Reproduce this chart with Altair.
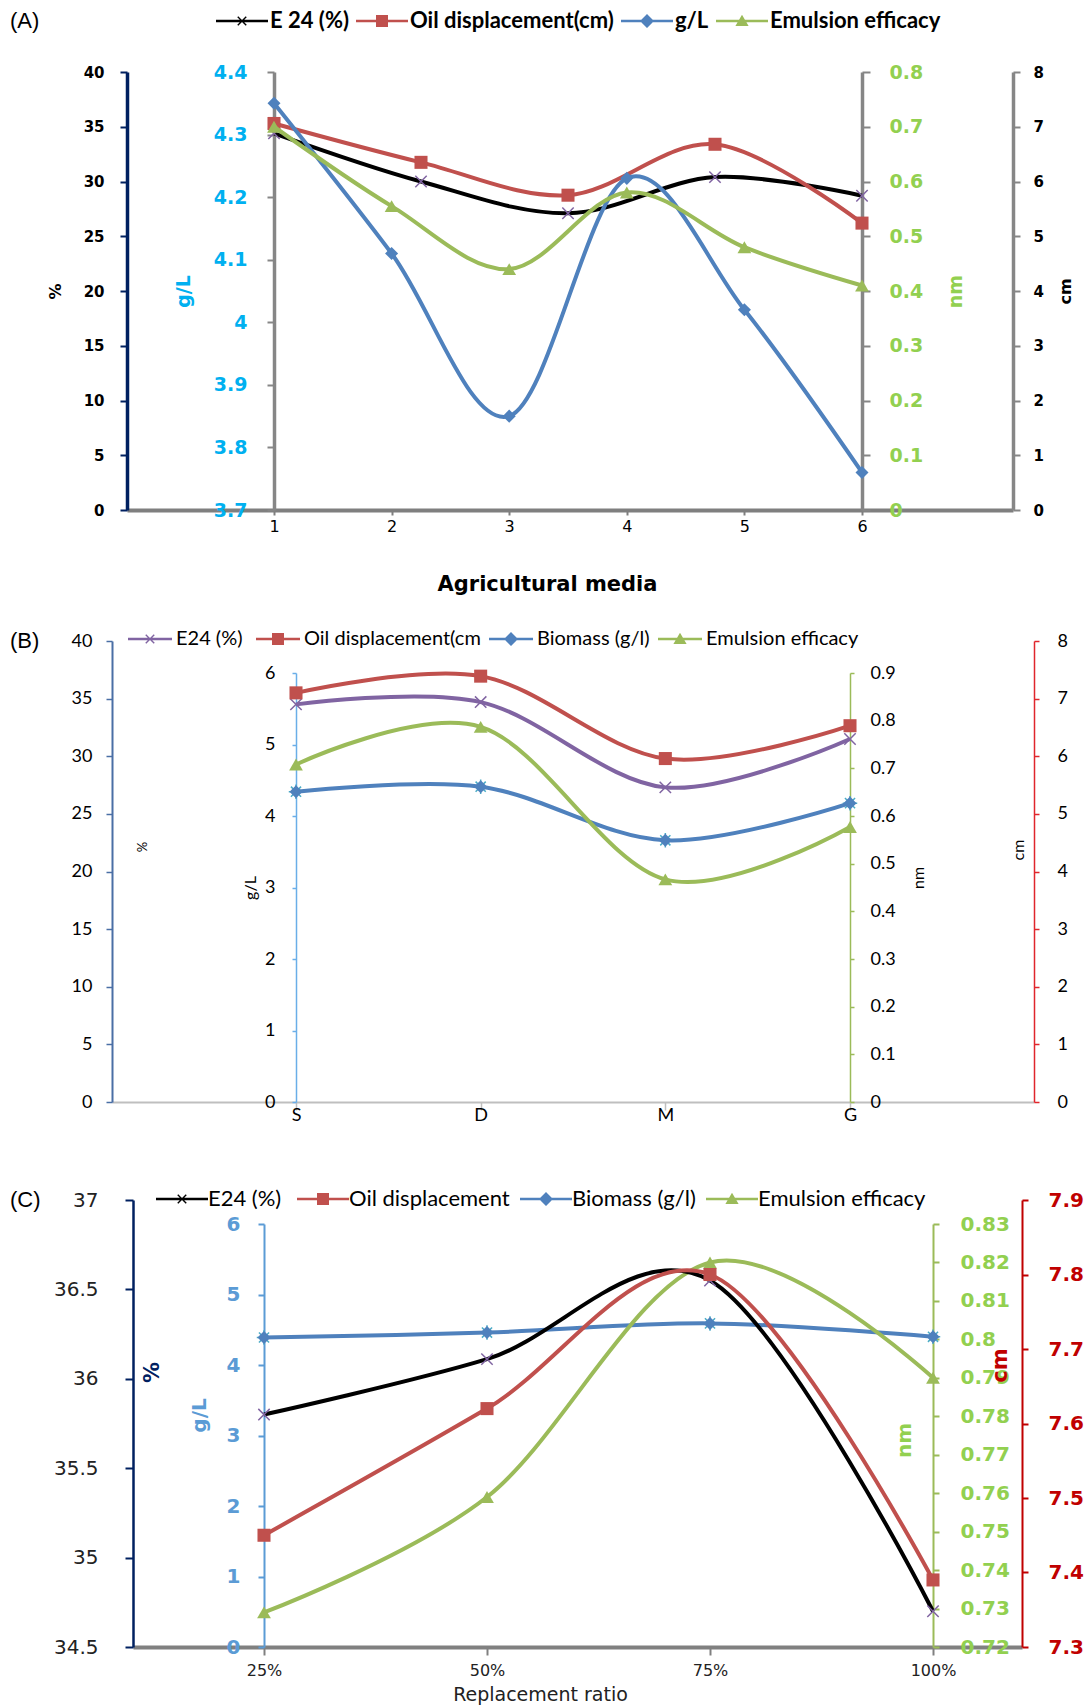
import json
import math
import altair as alt
import pandas as pd

W = 1086
HA, HB, HC = 598, 540, 567

# ---------------- Panel A data ----------------
A_MEDIA = [1, 2, 3, 4, 5, 6]
A_MEDIA_5 = [1, 2.25, 3.5, 4.75, 6]
A_E24 = [34.4, 30.0, 27.1, 30.4, 28.7]
A_OIL = [7.06, 6.35, 5.75, 6.68, 5.24]
A_GL = [4.35, 4.11, 3.85, 4.23, 4.02, 3.76]
A_EMUL = [0.70, 0.555, 0.44, 0.58, 0.48, 0.41]
A_NAMES = ["E 24 (%)", "Oil displacement(cm)", "g/L", "Emulsion efficacy"]
A_TICKS_PCT = [0, 5, 10, 15, 20, 25, 30, 35, 40]
A_TICKS_GL = [3.7, 3.8, 3.9, 4.0, 4.1, 4.2, 4.3, 4.4]
A_TICKS_NM = [0, 0.1, 0.2, 0.3, 0.4, 0.5, 0.6, 0.7, 0.8]
A_TICKS_CM = [0, 1, 2, 3, 4, 5, 6, 7, 8]

# ---------------- Panel B data ----------------
B_CATS = ["S", "D", "M", "G"]
B_E24 = [34.5, 34.7, 27.3, 31.5]
B_OIL = [7.10, 7.39, 5.96, 6.53]
B_BIO = [4.34, 4.41, 3.66, 4.18]
B_EMUL = [0.708, 0.787, 0.467, 0.577]
B_NAMES = ["E24  (%)", "Oil displacement(cm", "Biomass (g/l)", "Emulsion efficacy"]
B_TICKS_PCT = [0, 5, 10, 15, 20, 25, 30, 35, 40]
B_TICKS_GL = [0, 1, 2, 3, 4, 5, 6]
B_TICKS_NM = [0, 0.1, 0.2, 0.3, 0.4, 0.5, 0.6, 0.7, 0.8, 0.9]
B_TICKS_CM = [0, 1, 2, 3, 4, 5, 6, 7, 8]

# ---------------- Panel C data ----------------
C_CATS = ["25%", "50%", "75%", "100%"]
C_E24 = [35.80, 36.11, 36.55, 34.70]
C_OIL = [7.45, 7.62, 7.80, 7.39]
C_BIO = [4.39, 4.46, 4.59, 4.40]
C_EMUL = [0.729, 0.759, 0.820, 0.790]
C_NAMES = ["E24  (%)", "Oil displacement", "Biomass (g/l)", "Emulsion efficacy"]
C_TICKS_PCT = [34.5, 35, 35.5, 36, 36.5, 37]
C_TICKS_GL = [0, 1, 2, 3, 4, 5, 6]
C_TICKS_NM = [0.72, 0.73, 0.74, 0.75, 0.76, 0.77, 0.78, 0.79, 0.80, 0.81, 0.82, 0.83]
C_TICKS_CM = [7.3, 7.4, 7.5, 7.6, 7.7, 7.8, 7.9]

# ---------------- styles ----------------
BLACK = "#000000"
PURPLE = "#8064A2"
RED = "#C0504D"
BLUE = "#4F81BD"
GREEN = "#9BBB59"
CYAN = "#4BACC6"
VERD = "DejaVu Sans"
CAL = "Lato"
ARIAL = "Liberation Sans"
XPATH = "M-1,-1L1,1M-1,1L1,-1"
STAR = "M-1,0L1,0M0,-1L0,1M-0.7,-0.7L0.7,0.7M-0.7,0.7L0.7,-0.7"


def legend_path(marker, L):
    t = 0.12
    line = f"M{-L},{-t}H{L}V{t}H{-L}Z"
    if marker == "square":
        mk = "M-0.6,-0.6H0.6V0.6H-0.6Z"
    elif marker == "diamond":
        mk = "M0,-0.7L0.7,0L0,0.7L-0.7,0Z"
    elif marker == "triangle":
        mk = "M0,-0.62L0.66,0.5H-0.66Z"
    else:
        a, tt = 0.6, 0.07
        pts = [(tt, -a), (tt, -tt), (a, -tt), (a, tt), (tt, tt), (tt, a),
               (-tt, a), (-tt, tt), (-a, tt), (-a, -tt), (-tt, -tt), (-tt, -a)]
        r = 1 / math.sqrt(2)
        rp = [((x - y) * r, (x + y) * r) for x, y in pts]
        mk = "M" + "L".join(f"{x:.3f},{y:.3f}" for x, y in rp) + "Z"
    return line + mk


def pt(marker, color):
    if marker == "square":
        return alt.OverlayMarkDef(shape="square", size=170, filled=True, color=color, opacity=1)
    if marker == "triangle":
        return alt.OverlayMarkDef(shape="triangle-up", size=190, filled=True, color=color, opacity=1)
    if marker == "diamond":
        return alt.OverlayMarkDef(shape="diamond", size=170, filled=True, color=color, opacity=1)
    return alt.OverlayMarkDef(shape=XPATH, size=130, filled=False, color=color, strokeWidth=1.5, opacity=1)


def yaxis(orient, pos, ticks, title, dom, lab_col, lab_font, lab_size, lab_w, tsize, pad,
          t_x, t_y, t_col, t_font, t_size, t_w, dom_w=2, tick_w=2):
    off = -pos if orient == "left" else -(W - pos)
    return alt.Axis(orient=orient, offset=off, values=ticks, format="~g", title=title, grid=False,
                    domainColor=dom, domainWidth=dom_w, tickColor=dom, tickWidth=tick_w, tickSize=tsize,
                    labelColor=lab_col, labelFont=lab_font, labelFontSize=lab_size, labelFontWeight=lab_w,
                    labelPadding=pad, labelFlush=False, labelOverlap=False, labelBound=False,
                    titleX=t_x, titleY=t_y, titleAngle=270, titleAlign="center", titleBaseline="middle",
                    titleColor=t_col, titleFont=t_font, titleFontSize=t_size, titleFontWeight=t_w)


def series(xs, vs, ydom, yrng, axis, xenc, color, marker, sw=4):
    df = pd.DataFrame({"x": xs, "v": vs})
    return alt.Chart(df).mark_line(interpolate="cardinal", color=color, strokeWidth=sw,
                                   point=pt(marker, color if marker != "x" else PURPLE)).encode(
        x=xenc,
        y=alt.Y("v:Q", scale=alt.Scale(domain=ydom, range=yrng, nice=False, zero=False), axis=axis),
    )


def stars(xs, vs, ydom, yrng, xenc):
    df = pd.DataFrame({"x": xs, "v": vs})
    return alt.Chart(df).mark_point(shape=STAR, size=210, filled=False, color=CYAN, strokeWidth=1.5,
                                    opacity=1).encode(
        x=xenc,
        y=alt.Y("v:Q", scale=alt.Scale(domain=ydom, range=yrng, nice=False, zero=False), axis=None),
    )


def legend_layer(names, colors, markers, lx, ly, font, size, weight, colpad, L, lab_adj=0):
    df = pd.DataFrame({"s": names})
    paths = [legend_path(m, L) for m in markers]
    half = 10 * L
    leg = alt.Legend(title=None, orient="none", legendX=lx, legendY=ly, direction="horizontal",
                     columns=len(names), symbolSize=400, symbolOpacity=1, symbolStrokeWidth=0,
                     labelFont=font, labelFontSize=size, labelFontWeight=weight, labelColor="black",
                     labelLimit=0, columnPadding=colpad, symbolOffset=half - 10,
                     labelOffset=half - 6 + lab_adj)
    return alt.Chart(df).mark_point(filled=True, opacity=0).encode(
        color=alt.Color("s:N", scale=alt.Scale(domain=names, range=colors), legend=leg),
        shape=alt.Shape("s:N", scale=alt.Scale(domain=names, range=paths), legend=leg),
    )


def panel_title(text, dy):
    return alt.TitleParams(text=text, anchor="start", frame="group", orient="top", offset=0, dx=10, dy=dy,
                           fontSize=22, font=ARIAL, fontWeight="normal", color="black", baseline="middle")


# ================= Panel A =================
A_TOP, A_BOT = 72, 510
A_X = [127, 274, 862, 1013]  # % axis, g/L axis, nm axis, cm axis
a_step = (A_X[2] - A_X[1]) / (A_MEDIA[-1] - A_MEDIA[0])
a_xdom = [A_MEDIA[0] - (A_X[1] - A_X[0]) / a_step, A_MEDIA[-1] + (A_X[3] - A_X[2]) / a_step]
a_xaxis = alt.Axis(orient="bottom", offset=-(HA - A_BOT), values=A_MEDIA, format="d", grid=False,
                   domainColor="#7F7F7F", domainWidth=4, tickColor="#7F7F7F", tickWidth=2, tickSize=5,
                   labelFont=VERD, labelFontSize=16, labelColor="black", labelPadding=3, labelFlush=False,
                   title="Agricultural media", titleFont=VERD, titleFontSize=21, titleFontWeight="bold",
                   titleColor="black", titleX=547, titleY=74, titleBaseline="middle", titleAlign="center")
a_x = alt.X("x:Q", scale=alt.Scale(domain=a_xdom, range=[A_X[0], A_X[3]], nice=False, zero=False), axis=a_xaxis)
a_yr = [A_BOT, A_TOP]
a_mid = (A_TOP + A_BOT) / 2
GRAY = "#868686"

ax_pct = yaxis("left", A_X[0], A_TICKS_PCT, "%", "#002060", BLACK, VERD, 15, "bold", 7, 16,
               -72, a_mid, BLACK, VERD, 16, "bold", dom_w=3.5)
ax_gl = yaxis("left", A_X[1], A_TICKS_GL, "g/L", GRAY, "#00B0F0", VERD, 19, "bold", 7, 20,
              -91, a_mid, "#00B0F0", VERD, 19, "bold", dom_w=3.5)
ax_nm = yaxis("right", A_X[2], A_TICKS_NM, "nm", GRAY, "#92D050", VERD, 19, "bold", 8, 19,
              93, a_mid, "#92D050", VERD, 19, "bold", dom_w=3.5)
ax_cm = yaxis("right", A_X[3], A_TICKS_CM, "cm", GRAY, BLACK, VERD, 15, "bold", 7, 13,
              52, a_mid, BLACK, VERD, 16, "bold", dom_w=3.5)

panelA = alt.layer(
    series(A_MEDIA_5, A_E24, [0, 40], a_yr, ax_pct, a_x, BLACK, "x"),
    series(A_MEDIA_5, A_OIL, [0, 8], a_yr, ax_cm, a_x, RED, "square"),
    series(A_MEDIA, A_GL, [3.7, 4.4], a_yr, ax_gl, a_x, BLUE, "diamond"),
    series(A_MEDIA, A_EMUL, [0, 0.8], a_yr, ax_nm, a_x, GREEN, "triangle"),
    legend_layer(A_NAMES, [BLACK, RED, BLUE, GREEN], ["x", "square", "diamond", "triangle"],
                 215, 10, CAL, 22, "bold", 6, 2.6, -3),
).resolve_scale(y="independent").properties(width=W, height=HA, title=panel_title("(A)", 43))

# ================= Panel B =================
B_TOP, B_TOP2, B_BOT = 43, 75, 504
B_X = [112, 296, 850, 1034]
b_idx = list(range(len(B_CATS)))
b_step = (B_X[2] - B_X[1]) / (len(B_CATS) - 1)
b_xdom = [-(B_X[1] - B_X[0]) / b_step, (len(B_CATS) - 1) + (B_X[3] - B_X[2]) / b_step]
b_xaxis = alt.Axis(orient="bottom", offset=-(HB - B_BOT), values=b_idx,
                   labelExpr=f"{json.dumps(B_CATS)}[datum.value]", grid=False,
                   domainColor="#BFBFBF", domainWidth=2, tickColor="#BFBFBF", tickWidth=1.5, tickSize=8,
                   labelFont=CAL, labelFontSize=18, labelColor="black", labelPadding=-4, labelFlush=False,
                   title=None)
b_x = alt.X("x:Q", scale=alt.Scale(domain=b_xdom, range=[B_X[0], B_X[3]], nice=False, zero=False), axis=b_xaxis)
b_yr1 = [B_BOT, B_TOP]
b_yr2 = [B_BOT, B_TOP2]
b_mid1 = (B_TOP + B_BOT) / 2
b_mid2 = (B_TOP2 + B_BOT) / 2

bx_pct = yaxis("left", B_X[0], B_TICKS_PCT, "%", "#4A6FA5", BLACK, CAL, 18, "normal", 6, 14,
               30, b_mid1 - 25, BLACK, CAL, 13, "normal", dom_w=2, tick_w=1.5)
bx_gl = yaxis("left", B_X[1], B_TICKS_GL, "g/L", "#6AAEE8", BLACK, CAL, 18, "normal", 4, 17,
              -46, b_mid2, BLACK, CAL, 16, "normal", dom_w=1.5, tick_w=1.5)
bx_nm = yaxis("right", B_X[2], B_TICKS_NM, "nm", GREEN, BLACK, CAL, 18, "normal", 4, 16,
              68, b_mid2 - 10, BLACK, CAL, 16, "normal", dom_w=1.5, tick_w=1.5)
bx_cm = yaxis("right", B_X[3], B_TICKS_CM, "cm", "#E0262C", BLACK, CAL, 18, "normal", 5, 18,
              -16, b_mid1 - 22, BLACK, CAL, 16, "normal", dom_w=1.5, tick_w=1.5)

panelB = alt.layer(
    series(b_idx, B_E24, [0, 40], b_yr1, bx_pct, b_x, PURPLE, "x"),
    series(b_idx, B_OIL, [0, 8], b_yr1, bx_cm, b_x, RED, "square"),
    stars(b_idx, B_BIO, [0, 6], b_yr2, b_x),
    series(b_idx, B_BIO, [0, 6], b_yr2, bx_gl, b_x, BLUE, "diamond"),
    series(b_idx, B_EMUL, [0, 0.9], b_yr2, bx_nm, b_x, GREEN, "triangle"),
    legend_layer(B_NAMES, [PURPLE, RED, BLUE, GREEN], ["x", "square", "diamond", "triangle"],
                 128, 31, CAL, 20, "normal", 8, 2.2),
).resolve_scale(y="independent").properties(width=W, height=HB, title=panel_title("(B)", 65))

# ================= Panel C =================
C_TOP, C_TOP2, C_BOT = 62, 86, 509
C_X = [133, 264, 933, 1022]
c_idx = list(range(len(C_CATS)))
c_step = (C_X[2] - C_X[1]) / (len(C_CATS) - 1)
c_xdom = [-(C_X[1] - C_X[0]) / c_step, (len(C_CATS) - 1) + (C_X[3] - C_X[2]) / c_step]
c_xaxis = alt.Axis(orient="bottom", offset=-(HC - C_BOT), values=c_idx,
                   labelExpr=f"{json.dumps(C_CATS)}[datum.value]", grid=False,
                   domainColor="#808080", domainWidth=4, tickColor="#808080", tickWidth=2, tickSize=8,
                   labelFont=VERD, labelFontSize=16, labelColor="#222222", labelPadding=7, labelFlush=False,
                   title="Replacement ratio", titleFont=VERD, titleFontSize=19, titleFontWeight="normal",
                   titleColor="#222222", titleX=540, titleY=47, titleBaseline="middle", titleAlign="center")
c_x = alt.X("x:Q", scale=alt.Scale(domain=c_xdom, range=[C_X[0], C_X[3]], nice=False, zero=False), axis=c_xaxis)
c_yr1 = [C_BOT, C_TOP]
c_yr2 = [C_BOT, C_TOP2]

cx_pct = yaxis("left", C_X[0], C_TICKS_PCT, "%", "#002060", "#222222", VERD, 20, "normal", 8, 27,
               19, 234, "#002060", VERD, 21, "bold", dom_w=2.5, tick_w=2)
cx_gl = yaxis("left", C_X[1], C_TICKS_GL, "g/L", "#5B9BD5", "#5B9BD5", VERD, 20, "bold", 6, 18,
              -65, 277, "#5B9BD5", VERD, 20, "bold", dom_w=2, tick_w=2)
cx_nm = yaxis("right", C_X[2], C_TICKS_NM, "nm", GREEN, "#92D050", VERD, 20, "bold", 6, 21,
              -29, 302, "#92D050", VERD, 20, "bold", dom_w=2, tick_w=2)
cx_cm = yaxis("right", C_X[3], C_TICKS_CM, "cm", "#C00000", "#C00000", VERD, 20, "bold", 6, 20,
              -22, 227, "#C00000", VERD, 21, "bold", dom_w=2, tick_w=2)

panelC = alt.layer(
    stars(c_idx, C_BIO, [0, 6], c_yr2, c_x),
    series(c_idx, C_BIO, [0, 6], c_yr2, cx_gl, c_x, BLUE, "diamond"),
    series(c_idx, C_EMUL, [0.72, 0.83], c_yr2, cx_nm, c_x, GREEN, "triangle"),
    series(c_idx, C_E24, [34.5, 37], c_yr1, cx_pct, c_x, BLACK, "x"),
    series(c_idx, C_OIL, [7.3, 7.9], c_yr1, cx_cm, c_x, RED, "square"),
    legend_layer(C_NAMES, [BLACK, RED, BLUE, GREEN], ["x", "square", "diamond", "triangle"],
                 155, 50, CAL, 22, "normal", 9, 2.6, -5),
).resolve_scale(y="independent").properties(width=W, height=HC, title=panel_title("(C)", 84))

chart = alt.vconcat(panelA, panelB, panelC, spacing=0, bounds="flush").resolve_scale(
    color="independent", shape="independent", x="independent", y="independent"
).configure_view(stroke=None).properties(padding=0, background="white")

chart.save("out.html", embed_options={"renderer": "svg", "actions": False})
